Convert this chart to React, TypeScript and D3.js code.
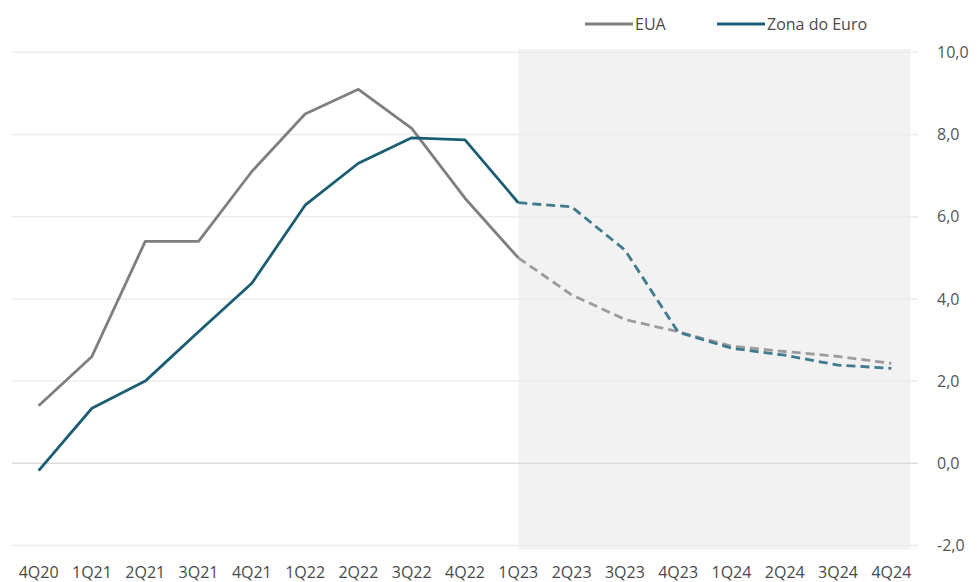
import { useEffect, useRef } from 'react';
import * as d3 from 'd3';

const quarters = ['4Q20', '1Q21', '2Q21', '3Q21', '4Q21', '1Q22', '2Q22', '3Q22', '4Q22',
    '1Q23', '2Q23', '3Q23', '4Q23', '1Q24', '2Q24', '3Q24', '4Q24'];
const eua = [1.4, 2.6, 5.4, 5.4, 7.1, 8.5, 9.1, 8.15, 6.45, 5.0, 4.1, 3.5, 3.2, 2.85, 2.72, 2.6, 2.43];
const zonaEuro = [-0.18, 1.34, 2.0, 3.2, 4.38, 6.28, 7.3, 7.92, 7.87, 6.34, 6.24, 5.19, 3.19, 2.8, 2.63, 2.39, 2.31];
const yTicks = [-2, 0, 2, 4, 6, 8, 10];
const forecastStart = '1Q23';

const width = 977;
const height = 582;
const font = "'Open Sans', 'Noto Sans', sans-serif";

export default function App() {
    const svgRef = useRef(null);

    useEffect(() => {
        const svg = d3.select(svgRef.current);
        svg.selectAll('*').remove();

        const x = d3.scaleBand().domain(quarters).range([12, 918]).padding(0);
        const cx = (q: string) => x(q)! + x.bandwidth() / 2;
        const y = d3.scaleLinear().domain([-2, 10]).range([545.5, 52.3]);

        // forecast shading
        const last = quarters[quarters.length - 1];
        svg.append('rect')
            .attr('x', cx(forecastStart))
            .attr('y', y(10.08))
            .attr('width', cx(last) + x.bandwidth() * 0.36 - cx(forecastStart))
            .attr('height', y(-2.1) - y(10.08))
            .attr('fill', '#f2f2f2');

        // gridlines
        svg.append('g')
            .selectAll('line')
            .data(yTicks)
            .join('line')
            .attr('x1', 12)
            .attr('x2', 918)
            .attr('y1', d => y(d))
            .attr('y2', d => y(d))
            .attr('stroke', d => (d === 0 ? '#dcdcdc' : '#ececec'))
            .attr('stroke-width', 1.5);

        // y labels on the right (hyphen minus, comma decimal)
        svg.append('g')
            .selectAll('text')
            .data(yTicks)
            .join('text')
            .attr('x', 937)
            .attr('y', d => y(d))
            .attr('dy', '0.35em')
            .attr('font-family', font)
            .attr('font-size', 16)
            .attr('fill', '#555')
            .text(d => d.toFixed(1).replace('.', ','));

        // x labels
        svg.append('g')
            .selectAll('text')
            .data(quarters)
            .join('text')
            .attr('x', d => cx(d))
            .attr('y', 572)
            .attr('dy', '0.35em')
            .attr('text-anchor', 'middle')
            .attr('font-family', font)
            .attr('font-size', 16)
            .attr('fill', '#4a4a4a')
            .text(d => d);

        const split = quarters.indexOf(forecastStart);
        const series = [
            { name: 'EUA', values: eua, color: '#7f7f7f', dashColor: '#9c9c9c' },
            { name: 'Zona do Euro', values: zonaEuro, color: '#1b5e74', dashColor: '#3f7a8e' }
        ];

        const line = d3.line<[string, number]>()
            .x(d => cx(d[0]))
            .y(d => y(d[1]));

        series.forEach(s => {
            const pts: [string, number][] = quarters.map((q, i) => [q, s.values[i]]);
            svg.append('path')
                .attr('d', line(pts.slice(0, split + 1)))
                .attr('fill', 'none')
                .attr('stroke', s.color)
                .attr('stroke-width', 2.8)
                .attr('stroke-linejoin', 'round');
            svg.append('path')
                .attr('d', line(pts.slice(split)))
                .attr('fill', 'none')
                .attr('stroke', s.dashColor)
                .attr('stroke-width', 2.8)
                .attr('stroke-dasharray', '9,5')
                .attr('stroke-linejoin', 'round');
        });

        // legend
        const legend = [
            { name: 'EUA', color: '#7f7f7f', x: 585 },
            { name: 'Zona do Euro', color: '#1b5e74', x: 717 }
        ];
        const lg = svg.append('g');
        legend.forEach(l => {
            lg.append('line')
                .attr('x1', l.x)
                .attr('x2', l.x + 48)
                .attr('y1', 24)
                .attr('y2', 24)
                .attr('stroke', l.color)
                .attr('stroke-width', 2.8);
            lg.append('text')
                .attr('x', l.x + 50)
                .attr('y', 24)
                .attr('dy', '0.35em')
                .attr('font-family', font)
                .attr('font-size', 16)
                .attr('fill', '#4a4a4a')
                .text(l.name);
        });
    }, []);

    return (
        <div style={{ position: 'absolute', left: 0, top: 0 }}>
            <svg ref={svgRef} width={width} height={height} style={{ display: 'block' }}></svg>
        </div>
    );
}
